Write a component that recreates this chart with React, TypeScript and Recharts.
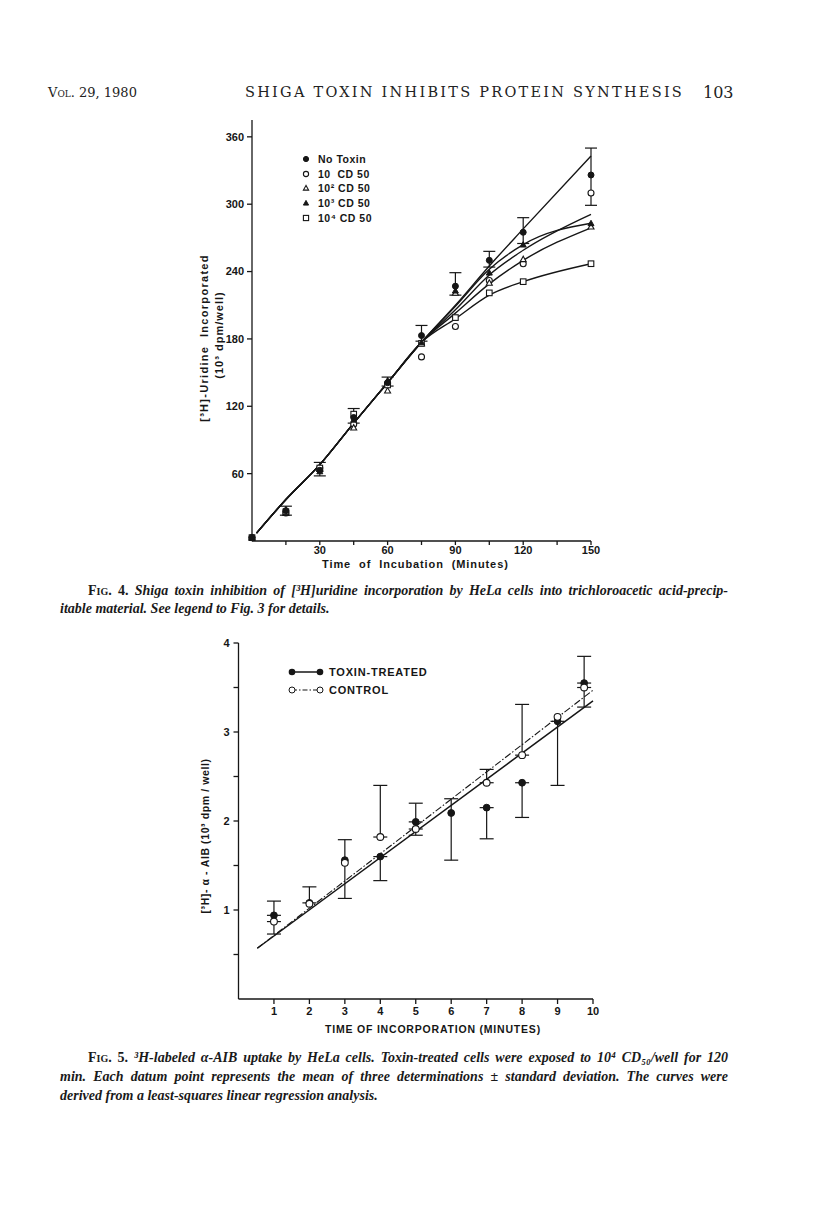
import React from 'react';
import { ComposedChart, Scatter, Line, XAxis, YAxis, ErrorBar } from 'recharts';

// Fig. 4 — [3H]uridine incorporation
const uridineTime = [0, 15, 30, 45, 60, 75, 90, 105, 120, 150];
const noToxin = [3, 27, 63, 110, 141, 183, 227, 250, 275, 326];
const noToxinLow = [0, 4, 5, 5, 3, 5, 8, 6, 10, 27];
const noToxinHigh = [0, 4, 7, 8, 5, 9, 12, 8, 13, 24];
const cd10 = [3, 25, 65, 104, 140, 164, 191, 232, 247, 310];
const cd100 = [3, 25, 64, 101, 134, 176, 221, 230, 251, 280];
const cd1000 = [3, 28, 62, 108, 143, 177, 223, 239, 264, 283];
const cd10000 = [3, 26, 65, 113, 139, 176, 199, 221, 231, 247];

const fitTime = [2, 15, 30, 45, 60, 75, 90, 105, 120, 150];
const fitCommon = [7, 37, 68, 105, 141, 177];
const fitNoToxin = [210, 245, 278, 343];
const fit10 = [206, 237, 259, 291];
const fit100 = [203, 229, 250, 279];
const fit1000 = [209, 242, 264, 283];
const fit10000 = [198, 219, 231, 247];

const uridineYTicks = [60, 120, 180, 240, 300, 360];
const uridineXTicks = [15, 30, 45, 60, 75, 90, 105, 120, 135, 150];

// Fig. 5 — alpha-AIB uptake
const aibTime = [1, 2, 3, 4, 5, 6, 7, 8, 9, 9.75];
const toxin = [0.94, 1.08, 1.56, 1.6, 1.99, 2.09, 2.15, 2.43, 3.12, 3.55];
const toxinLow = [0, 0, 0.43, 0.27, 0, 0.53, 0.35, 0.39, 0.72, 0];
const toxinHigh = [0.16, 0.18, 0.23, 0, 0.21, 0.16, 0, 0, 0, 0.3];
const controlTime = [1, 2, 3, 4, 5, 7, 8, 9, 9.75];
const control = [0.87, 1.07, 1.53, 1.82, 1.91, 2.43, 2.74, 3.17, 3.5];
const controlLow = [0.14, 0, 0, 0, 0.07, 0, 0, 0, 0.22];
const controlHigh = [0, 0, 0, 0.58, 0, 0.15, 0.57, 0, 0];
const regTime = [0.53, 10];
const toxinReg = [0.57, 3.35];
const controlReg = [0.57, 3.47];
const aibYTicks = [0.5, 1, 1.5, 2, 2.5, 3, 3.5, 4];
const aibXTicks = [1, 2, 3, 4, 5, 6, 7, 8, 9, 10];

const INK = '#161616';
const chartFont = '"Liberation Sans", Arial, sans-serif';
const serif = '"DejaVu Serif", "Liberation Serif", serif';

const pts = (xs: number[], ys: number[], lo?: number[], hi?: number[]) =>
  xs.map((x, i) => ({
    x,
    y: ys[i],
    err: lo && hi && (lo[i] || hi[i]) ? [lo[i], hi[i]] : undefined,
  }));

const fitPts = (tail: number[]) => pts(fitTime, [...fitCommon, ...tail]);

const marker = (kind: string, size = 3) => (p: any) => {
  const { cx, cy } = p;
  if (cx == null || cy == null) return <g />;
  const s = size;
  switch (kind) {
    case 'dot':
      return <circle cx={cx} cy={cy} r={s} fill={INK} stroke={INK} />;
    case 'ring':
      return <circle cx={cx} cy={cy} r={s} fill="#fff" stroke={INK} strokeWidth={1.1} />;
    case 'tri':
      return <polygon points={`${cx},${cy - s} ${cx - s},${cy + s * 0.8} ${cx + s},${cy + s * 0.8}`} fill="#fff" stroke={INK} strokeWidth={1.1} />;
    case 'triFill':
      return <polygon points={`${cx},${cy - s} ${cx - s},${cy + s * 0.8} ${cx + s},${cy + s * 0.8}`} fill={INK} stroke={INK} />;
    default:
      return <rect x={cx - s} y={cy - s} width={s * 2} height={s * 2} fill="#fff" stroke={INK} strokeWidth={1.1} />;
  }
};

const tickStyle = { fill: INK, fontSize: 11, fontFamily: chartFont, fontWeight: 600 };

const Rotated = ({ cx, cy, w, children, size = 11, spacing = 0.6 }: any) => (
  <div
    style={{
      position: 'absolute',
      left: cx - w / 2,
      top: cy - 8,
      width: w,
      height: 16,
      lineHeight: '16px',
      textAlign: 'center',
      transform: 'rotate(-90deg)',
      fontFamily: chartFont,
      fontSize: size,
      fontWeight: 600,
      color: INK,
      letterSpacing: spacing,
      whiteSpace: 'pre',
    }}
  >
    {children}
  </div>
);

const Abs = ({ left, top, children, style }: any) => (
  <div style={{ position: 'absolute', left, top, whiteSpace: 'nowrap', ...style }}>{children}</div>
);

const legendRows = [
  { kind: 'dot', label: 'No Toxin' },
  { kind: 'ring', label: '10  CD 50' },
  { kind: 'tri', label: '10² CD 50' },
  { kind: 'triFill', label: '10³ CD 50' },
  { kind: 'square', label: '10⁴ CD 50' },
];

const capLine = (text: React.ReactNode, left: number, top: number, width: number, justify: boolean) => (
  <div
    style={{
      position: 'absolute',
      left,
      top,
      width,
      fontFamily: '"Liberation Serif", "Times New Roman", serif',
      fontSize: 14,
      fontStyle: 'italic',
      fontWeight: 600,
      color: '#1a1a1a',
      whiteSpace: 'nowrap',
      textAlign: justify ? 'justify' : 'left',
      textAlignLast: justify ? 'justify' : 'left',
    }}
  >
    {text}
  </div>
);

const Fig = ({ n }: { n: number }) => (
  <span style={{ fontStyle: 'normal', fontVariant: 'small-caps' }}>Fig. {n}.</span>
);

export default function App() {
  return (
    <div style={{ position: 'absolute', left: 0, top: 0, width: 816, height: 1222, background: '#fff', overflow: 'hidden' }}>
      {/* running head */}
      <Abs left={48} top={85} style={{ fontFamily: serif, fontSize: 13, fontVariant: 'small-caps', color: '#222' }}>
        Vol. 29, 1980
      </Abs>
      <Abs left={245} top={84} style={{ fontFamily: serif, fontSize: 14.5, color: '#222', letterSpacing: 2.25 }}>
        SHIGA TOXIN INHIBITS PROTEIN SYNTHESIS
      </Abs>
      <Abs left={703} top={83} style={{ fontFamily: serif, fontSize: 16, color: '#222' }}>
        103
      </Abs>

      {/* Fig. 4 */}
      <div style={{ position: 'absolute', left: 150, top: 100 }}>
        <ComposedChart width={480} height={470} margin={{ top: 20, right: 39, bottom: 4, left: 42 }}>
          <XAxis
            type="number"
            dataKey="x"
            domain={[0, 150]}
            ticks={uridineXTicks}
            tickFormatter={(v: number) => (v % 30 === 0 ? String(v) : '')}
            tick={tickStyle}
            tickSize={4}
            tickMargin={1}
            height={25}
            stroke={INK}
            strokeWidth={1.3}
          />
          <YAxis
            type="number"
            dataKey="y"
            domain={[0, 375]}
            ticks={uridineYTicks}
            tick={tickStyle}
            tickSize={5}
            tickMargin={3}
            width={60}
            stroke={INK}
            strokeWidth={1.3}
          />
          {[fitNoToxin, fit10, fit100, fit1000, fit10000].map((tail, i) => (
            <Line
              key={i}
              data={fitPts(tail)}
              dataKey="y"
              type="monotone"
              stroke={INK}
              strokeWidth={1.4}
              dot={false}
              activeDot={false}
              isAnimationActive={false}
            />
          ))}
          <Scatter data={pts(uridineTime, cd10)} dataKey="y" shape={marker('ring')} isAnimationActive={false} />
          <Scatter data={pts(uridineTime, cd100)} dataKey="y" shape={marker('tri')} isAnimationActive={false} />
          <Scatter data={pts(uridineTime, cd10000)} dataKey="y" shape={marker('square', 2.8)} isAnimationActive={false} />
          <Scatter data={pts(uridineTime, cd1000)} dataKey="y" shape={marker('triFill')} isAnimationActive={false} />
          <Scatter data={pts(uridineTime, noToxin, noToxinLow, noToxinHigh)} dataKey="y" shape={marker('dot')} isAnimationActive={false}>
            <ErrorBar dataKey="err" direction="y" width={6} stroke={INK} strokeWidth={1.2} />
          </Scatter>
        </ComposedChart>
      </div>
      <div style={{ position: 'absolute', left: 300, top: 152 }}>
        {legendRows.map((r, i) => (
          <div key={i} style={{ height: 14.6, display: 'flex', alignItems: 'center' }}>
            <svg width={12} height={12}>{marker(r.kind, 2.6)({ cx: 6, cy: 6 })}</svg>
            <span style={{ marginLeft: 6, fontFamily: chartFont, fontSize: 10.5, fontWeight: 600, color: INK, letterSpacing: 0.5, whiteSpace: 'pre' }}>
              {r.label}
            </span>
          </div>
        ))}
      </div>
      <Rotated cx={204} cy={338} w={200} spacing={1.3}>[³H]-Uridine  Incorporated</Rotated>
      <Rotated cx={219} cy={335} w={120} spacing={1}>(10³ dpm/well)</Rotated>
      <Abs left={322} top={558} style={{ fontFamily: chartFont, fontSize: 11, fontWeight: 600, color: INK, letterSpacing: 0.9, wordSpacing: 4 }}>
        Time of Incubation (Minutes)
      </Abs>

      {capLine(<><Fig n={4} /> Shiga toxin inhibition of [³H]uridine incorporation by HeLa cells into trichloroacetic acid-precip-</>, 88, 583, 640, true)}
      {capLine('itable material. See legend to Fig. 3 for details.', 60, 601, 668, false)}

      {/* Fig. 5 */}
      <div style={{ position: 'absolute', left: 150, top: 620 }}>
        <ComposedChart width={480} height={420} margin={{ top: 23, right: 37, bottom: 11, left: 38.5 }}>
          <XAxis
            type="number"
            dataKey="x"
            domain={[0, 10]}
            ticks={aibXTicks}
            tick={tickStyle}
            tickSize={5}
            tickMargin={3}
            height={30}
            stroke={INK}
            strokeWidth={1.3}
          />
          <YAxis
            type="number"
            dataKey="y"
            domain={[0, 4]}
            ticks={aibYTicks}
            tickFormatter={(v: number) => (Number.isInteger(v) ? String(v) : '')}
            tick={tickStyle}
            tickSize={5}
            tickMargin={4}
            width={50}
            stroke={INK}
            strokeWidth={1.3}
          />
          <Line data={pts(regTime, toxinReg)} dataKey="y" type="linear" stroke={INK} strokeWidth={1.5} dot={false} activeDot={false} isAnimationActive={false} />
          <Line data={pts(regTime, controlReg)} dataKey="y" type="linear" stroke={INK} strokeWidth={1.1} strokeDasharray="7 2 1.5 2" dot={false} activeDot={false} isAnimationActive={false} />
          <Scatter data={pts(aibTime, toxin, toxinLow, toxinHigh)} dataKey="y" shape={marker('dot', 3.4)} isAnimationActive={false}>
            <ErrorBar dataKey="err" direction="y" width={7} stroke={INK} strokeWidth={1.2} />
          </Scatter>
          <Scatter data={pts(controlTime, control, controlLow, controlHigh)} dataKey="y" shape={marker('ring', 3.4)} isAnimationActive={false}>
            <ErrorBar dataKey="err" direction="y" width={7} stroke={INK} strokeWidth={1.2} />
          </Scatter>
        </ComposedChart>
      </div>
      <div style={{ position: 'absolute', left: 288, top: 663 }}>
        <div style={{ height: 18, display: 'flex', alignItems: 'center' }}>
          <svg width={36} height={10}>
            <line x1={4} y1={5} x2={32} y2={5} stroke={INK} strokeWidth={1.5} />
            <circle cx={4} cy={5} r={3.3} fill={INK} />
            <circle cx={32} cy={5} r={3.3} fill={INK} />
          </svg>
          <span style={{ marginLeft: 5, fontFamily: chartFont, fontSize: 11, fontWeight: 600, color: INK, letterSpacing: 0.8 }}>TOXIN-TREATED</span>
        </div>
        <div style={{ height: 18, display: 'flex', alignItems: 'center' }}>
          <svg width={36} height={10}>
            <line x1={4} y1={5} x2={32} y2={5} stroke={INK} strokeWidth={1.1} strokeDasharray="5 2 1.5 2" />
            <circle cx={4} cy={5} r={3} fill="#fff" stroke={INK} />
            <circle cx={32} cy={5} r={3} fill="#fff" stroke={INK} />
          </svg>
          <span style={{ marginLeft: 5, fontFamily: chartFont, fontSize: 11, fontWeight: 600, color: INK, letterSpacing: 0.8 }}>CONTROL</span>
        </div>
      </div>
      <Rotated cx={205} cy={836} w={200} size={10.5}>[³H]- α - AIB (10³ dpm / well)</Rotated>
      <Abs left={325} top={1023} style={{ fontFamily: chartFont, fontSize: 10.5, fontWeight: 600, color: INK, letterSpacing: 0.8 }}>
        TIME OF INCORPORATION (MINUTES)
      </Abs>

      {capLine(<><Fig n={5} /> ³H-labeled α-AIB uptake by HeLa cells. Toxin-treated cells were exposed to 10⁴ CD₅₀/well for 120</>, 88, 1050, 640, true)}
      {capLine('min. Each datum point represents the mean of three determinations ± standard deviation. The curves were', 60, 1069, 668, true)}
      {capLine('derived from a least-squares linear regression analysis.', 60, 1088, 668, false)}
    </div>
  );
}
